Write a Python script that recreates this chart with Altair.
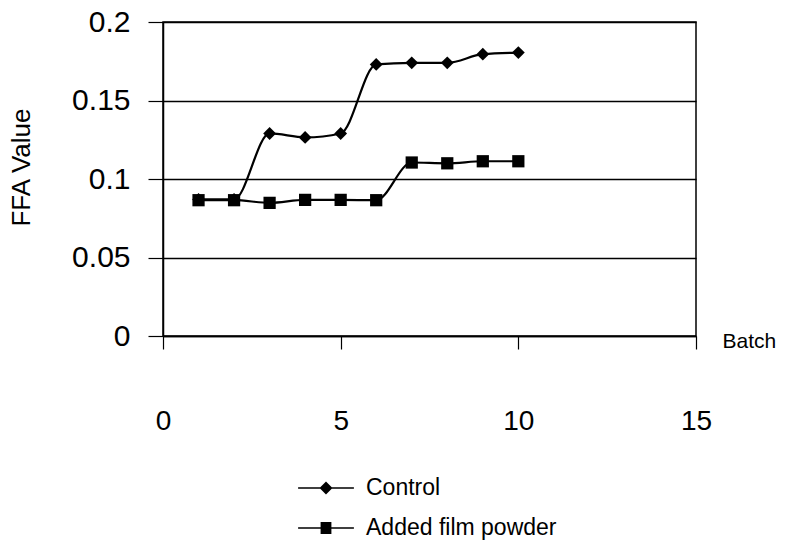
import altair as alt
import pandas as pd

batch = [1, 2, 3, 4, 5, 6, 7, 8, 9, 10]
control = [0.087, 0.087, 0.129, 0.1265, 0.129, 0.173, 0.174, 0.174, 0.1795, 0.1805]
film = [0.0865, 0.0865, 0.0848, 0.0867, 0.0867, 0.0865, 0.1105, 0.110, 0.1113, 0.1113]
series_names = ["Control", "Added film powder"]
x_ticks = [0, 5, 10, 15]
y_ticks = [0, 0.05, 0.1, 0.15, 0.2]

rows = []
for b, v in zip(batch, control):
    rows.append({"Batch": b, "FFA": v, "series": series_names[0]})
for b, v in zip(batch, film):
    rows.append({"Batch": b, "FFA": v, "series": series_names[1]})
df = pd.DataFrame(rows)

FONT = "Liberation Sans"

x_enc = alt.X(
    "Batch:Q",
    scale=alt.Scale(domain=[0, 15], nice=False, zero=False),
    axis=alt.Axis(
        values=x_ticks, grid=False, tickSize=13, labelPadding=58, labelFlush=False,
        labelFontSize=28, labelFont=FONT, labelColor="black",
        domainColor="black", tickColor="black", domainWidth=1.5, tickWidth=1.2,
        title="Batch", titleFont=FONT, titleFontSize=21, titleFontWeight="normal",
        titleColor="black", titleX=559, titleY=5, titleAlign="left",
        titleBaseline="middle", titleAngle=0,
    ),
)
y_enc = alt.Y(
    "FFA:Q",
    scale=alt.Scale(domain=[0, 0.2], nice=False),
    axis=alt.Axis(
        values=y_ticks, grid=True, gridColor="black", gridWidth=1.3,
        tickSize=15, labelPadding=18, labelFontSize=30, labelFont=FONT,
        labelColor="black", labelExpr="format(datum.value, '~g')",
        domainColor="black", tickColor="black", domainWidth=1.5, tickWidth=1.2,
        title="FFA Value", titleFont=FONT, titleFontSize=26, titleFontWeight="normal",
        titleColor="black", titleX=-142, titleY=145, titleBaseline="middle",
        titleAlign="center",
    ),
)

lines = alt.Chart(df).mark_line(
    interpolate="monotone", color="black", strokeWidth=2.2
).encode(x=x_enc, y=y_enc, detail="series:N")

pts_control = alt.Chart(df).transform_filter(
    alt.datum.series == series_names[0]
).mark_point(filled=True, color="black", opacity=1, size=165, shape="diamond").encode(x=x_enc, y=y_enc)

pts_film = alt.Chart(df).transform_filter(
    alt.datum.series == series_names[1]
).mark_point(filled=True, color="black", opacity=1, size=150, shape="square").encode(x=x_enc, y=y_enc)

legend_paths = [
    "M-1.55,-0.045L1.55,-0.045L1.55,0.045L-1.55,0.045ZM0,-0.36L0.36,0L0,0.36L-0.36,0Z",
    "M-1.55,-0.045L1.55,-0.045L1.55,0.045L-1.55,0.045ZM-0.3,-0.33L0.3,-0.33L0.3,0.33L-0.3,0.33Z",
]
legend_layer = alt.Chart(df).mark_point(
    filled=True, color="black", opacity=1, size=0
).encode(
    x=x_enc, y=y_enc,
    shape=alt.Shape(
        "series:N",
        scale=alt.Scale(domain=series_names, range=legend_paths),
        legend=alt.Legend(
            orient="none", legendX=145, legendY=448, title=None,
            symbolSize=1296, symbolFillColor="black", symbolStrokeWidth=0,
            labelFont=FONT, labelFontSize=23,
            labelColor="black", labelOffset=22, rowPadding=10, padding=0,
            labelLimit=400,
        ),
    ),
)

chart = alt.layer(lines, pts_control, pts_film, legend_layer).properties(
    width=533, height=314,
    autosize=alt.AutoSizeParams(type="none"),
    padding={"left": 163, "top": 22, "right": 90, "bottom": 218},
    background="white",
).configure_view(stroke="black", strokeWidth=1.5)

chart.save("out.html", embed_options={"renderer": "svg", "actions": False})
